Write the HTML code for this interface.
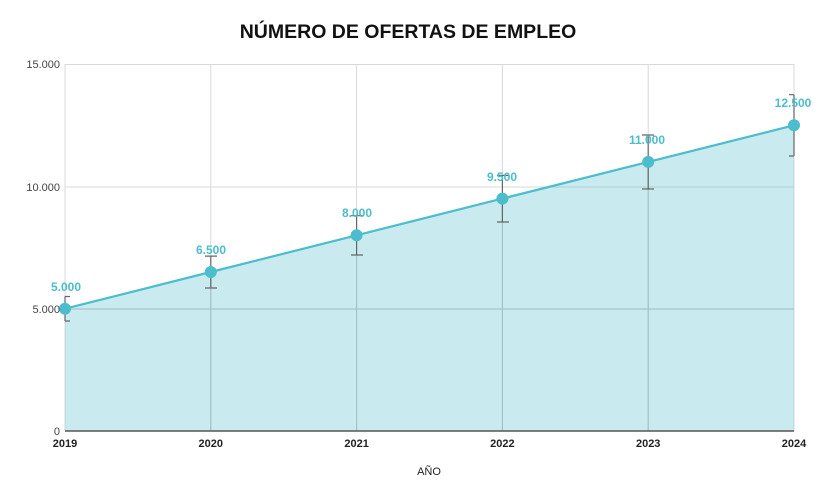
<!DOCTYPE html>
<html><head><meta charset="utf-8"><style>body{margin:0;background:#fff}svg{display:block}</style></head><body>
<svg width="814" height="500" xmlns="http://www.w3.org/2000/svg" font-family="Liberation Sans, Arial, sans-serif">
<text x="408" y="38" text-anchor="middle" font-size="19.5" font-weight="bold" fill="#111">NÚMERO DE OFERTAS DE EMPLEO</text>
<g stroke="#d9d9d9" stroke-width="1">
<line x1="65" y1="64.5" x2="794" y2="64.5"/>
<line x1="65" y1="187" x2="794" y2="187"/>
<line x1="65" y1="309" x2="794" y2="309"/>
<line x1="210.8" y1="64" x2="210.8" y2="431"/>
<line x1="356.6" y1="64" x2="356.6" y2="431"/>
<line x1="502.4" y1="64" x2="502.4" y2="431"/>
<line x1="648.2" y1="64" x2="648.2" y2="431"/>
<line x1="794" y1="64" x2="794" y2="431"/>
<line x1="65" y1="64" x2="65" y2="431"/>
</g>
<polygon points="65,308.7 210.8,272 356.6,235.3 502.4,198.6 648.2,161.9 794,125.3 794,431 65,431" fill="#4bbdcc" fill-opacity="0.3"/>
<g stroke="#9fb9bd" stroke-width="1" opacity="0.8">
<line x1="210.8" y1="272" x2="210.8" y2="431"/><line x1="356.6" y1="235" x2="356.6" y2="431"/><line x1="502.4" y1="198" x2="502.4" y2="431"/><line x1="648.2" y1="162" x2="648.2" y2="431"/>
<line x1="65" y1="309" x2="794" y2="309"/>
</g>
<line x1="65" y1="431" x2="794" y2="431" stroke="#555" stroke-width="1.5"/>
<polyline points="65,308.7 210.8,272 356.6,235.3 502.4,198.6 648.2,161.9 794,125.3" fill="none" stroke="#4bbdcc" stroke-width="2.2"/>
<g stroke="#666" stroke-width="1.2" fill="none">
<path d="M65,296.5H70M65,296.5V321M65,321H70"/>
<path d="M205,256.1H217M210.8,256.1V288M205,288H217"/>
<path d="M351,215.7H363M356.6,215.7V255M351,255H363"/>
<path d="M497,175.4H509M502.4,175.4V222M497,222H509"/>
<path d="M642,135H654M648.2,135V189M642,189H654"/>
<path d="M789,94.7H794M794,94.7V156M789,156H794"/>
</g>
<g fill="#4bbdcc">
<circle cx="65" cy="308.7" r="6"/><circle cx="210.8" cy="272" r="6"/><circle cx="356.6" cy="235.3" r="6"/><circle cx="502.4" cy="198.6" r="6"/><circle cx="648.2" cy="161.9" r="6"/><circle cx="794" cy="125.3" r="6"/>
</g>
<g fill="#4bbdcc" font-size="12" font-weight="bold" text-anchor="middle">
<text x="66" y="291">5.000</text><text x="211" y="254">6.500</text><text x="357" y="217">8.000</text><text x="502" y="181">9.500</text><text x="647" y="144">11.000</text><text x="793" y="107">12.500</text>
</g>
<g fill="#444" font-size="11" text-anchor="end">
<text x="60" y="68">15.000</text><text x="60" y="191">10.000</text><text x="60" y="313">5.000</text><text x="60" y="435">0</text>
</g>
<g fill="#222" font-size="11" font-weight="bold" text-anchor="middle">
<text x="65" y="447">2019</text><text x="210.8" y="447">2020</text><text x="356.6" y="447">2021</text><text x="502.4" y="447">2022</text><text x="648.2" y="447">2023</text><text x="794" y="447">2024</text>
</g>
<text x="429" y="475" text-anchor="middle" font-size="11" fill="#222">AÑO</text>
</svg>
</body></html>
